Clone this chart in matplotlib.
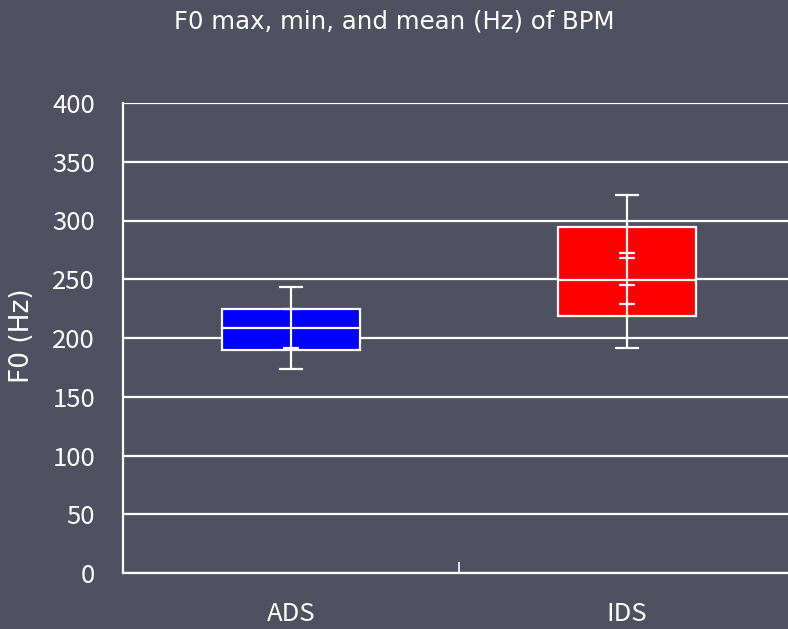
import matplotlib
matplotlib.use("Agg")
import matplotlib.pyplot as plt
import numpy as np

tickfont = ['Noto Sans CJK JP', 'DejaVu Sans']
plt.rcParams['font.family'] = ['DejaVu Sans']

categories = ['ADS', 'IDS']
box_low = [189.8, 218.7]
box_high = [224.7, 294.7]
medians = [208.5, 249.5]
whisk_low = [173.3, 191.8]
whisk_high = [243.1, 321.7]
inner_marks = [[191.8, 224.7], [228.9, 245.4, 268.1, 272.3]]
box_colors = ['#0000ff', '#ff0000']
yticks = [0, 50, 100, 150, 200, 250, 300, 350, 400]

bg = '#4f5060'
fig = plt.figure(figsize=(7.88, 6.29), dpi=100, facecolor=bg)
ax = fig.add_axes([123/788, 56/629, 672/788, 470/629], facecolor=bg)

x = np.arange(len(categories))
bw = 0.408
cw = 0.025

ax.set_ylim(0, 400)
ax.set_xlim(-0.5, 1.5)
ax.set_yticks(yticks)
ax.yaxis.grid(True, color='white', linewidth=1.6, zorder=0)
ax.set_axisbelow(True)

ax.bar(x, np.array(box_high) - np.array(box_low), bottom=box_low, width=bw,
       color=box_colors, edgecolor='white', linewidth=1.6, zorder=2)
ax.hlines(medians, x - bw/2, x + bw/2, color='white', linewidth=1.6, zorder=3)
mid = (np.array(whisk_high) + np.array(whisk_low)) / 2
err = (np.array(whisk_high) - np.array(whisk_low)) / 2
ax.errorbar(x, mid, yerr=err, fmt='none', ecolor='white', elinewidth=1.6,
            capsize=8.5, capthick=1.6, zorder=4)
for xi, marks in zip(x, inner_marks):
    ax.hlines(marks, xi - cw, xi + cw, color='white', linewidth=1.6, zorder=4)

for s in ['top', 'right']:
    ax.spines[s].set_visible(False)
for s in ['left', 'bottom']:
    ax.spines[s].set_color('white')
    ax.spines[s].set_linewidth(1.6)

ax.set_xticks([0.5], minor=False)
ax.set_xticklabels([''])
ax.tick_params(axis='x', which='major', direction='in', length=8, color='white', width=1.2)
ax.set_xticks(x, minor=True)
ax.set_xticklabels(categories, minor=True)
ax.tick_params(axis='x', which='minor', length=0, pad=20.5, labelsize=18.5, labelcolor='white')
ax.tick_params(axis='y', length=0, pad=20, labelsize=18.5, labelcolor='white')
for lab in ax.get_yticklabels() + ax.get_xticklabels(minor=True):
    lab.set_family(tickfont)

fig.text(22/788, 1 - 336/629, 'F0 (Hz)', color='white', fontsize=19, rotation=90,
         ha='center', va='center')
fig.text(394/788, 1 - 22/629, 'F0 max, min, and mean (Hz) of BPM', color='white',
         fontsize=17.6, ha='center', va='center')

fig.savefig('out.png', dpi=100, facecolor=bg)
